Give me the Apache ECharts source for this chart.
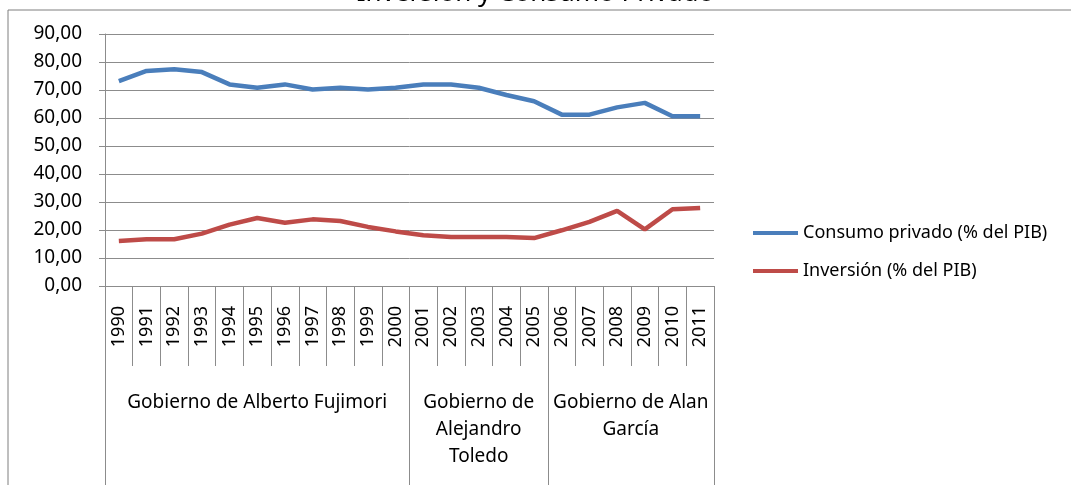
<!DOCTYPE html>
<html lang="es">
<head>
  <meta charset="UTF-8">
  <title>Inversión y Consumo Privado</title>
  <script src="https://cdn.jsdelivr.net/npm/echarts@6/dist/echarts.min.js"></script>
  <style>
    html, body { margin: 0; padding: 0; background: #fff; }
    #chart { width: 1071px; height: 485px; }
  </style>
</head>
<body>
  <div id="chart"></div>
  <script>
    // datos
    var years = ['1990','1991','1992','1993','1994','1995','1996','1997','1998','1999','2000',
                 '2001','2002','2003','2004','2005','2006','2007','2008','2009','2010','2011'];
    var consumo = [73.2, 76.8, 77.4, 76.4, 72.0, 70.8, 72.0, 70.2, 70.8, 70.2, 70.8,
                   72.0, 72.0, 70.8, 68.2, 66.0, 61.2, 61.2, 63.8, 65.4, 60.6, 60.6];
    var inversion = [16.1, 16.7, 16.7, 18.7, 21.9, 24.3, 22.6, 23.8, 23.2, 21.1, 19.5,
                     18.1, 17.5, 17.5, 17.5, 17.1, 19.9, 22.9, 26.8, 20.2, 27.4, 27.9];
    // gobiernos: nombre, primer indice, ultimo indice
    var gobiernos = ['Gobierno de Alberto Fujimori', 'Gobierno de\nAlejandro\nToledo', 'Gobierno de Alan\nGarcía'];
    var gobInicio = [0, 11, 16];
    var gobFin = [10, 15, 21];

    var font = 'Noto Sans';
    var gris = '#8c8c8c';

    // limites entre gobiernos y posicion del rotulo
    var limites = gobInicio.concat([years.length]);
    function gobLabelIdx(i) {
      for (var g = 0; g < gobiernos.length; g++) {
        if (i === Math.ceil((gobInicio[g] + gobFin[g]) / 2)) return g;
      }
      return -1;
    }

    var chart = echarts.init(document.getElementById('chart'), null, {renderer: 'canvas'});
    var option = {
      animation: false,
      backgroundColor: '#fff',
      title: {
        text: 'Inversión y Consumo Privado',
        left: 'center',
        top: -19,
        padding: 0,
        z: 10,
        textStyle: { fontFamily: font, fontSize: 26, fontWeight: 'normal', color: '#000' }
      },
      graphic: [{
        type: 'rect',
        z: -1,
        shape: { x: 8, y: 10, width: 1200, height: 600 },
        style: { fill: 'none', stroke: '#7f7f7f', lineWidth: 1 }
      }],
      legend: {
        orient: 'vertical',
        left: 748,
        top: 219,
        itemGap: 20,
        itemWidth: 45,
        itemHeight: 4,
        icon: 'rect',
        textStyle: { fontFamily: font, fontSize: 18, color: '#000' },
        data: ['Consumo privado (% del PIB)', 'Inversión (% del PIB)']
      },
      grid: { left: 105, right: 357, top: 34, bottom: 199, containLabel: false },
      xAxis: [{
        type: 'category',
        data: years,
        boundaryGap: true,
        axisLine: { show: true, lineStyle: { color: gris } },
        axisTick: { show: true, interval: 0, length: 80, lineStyle: { color: gris } },
        axisLabel: {
          interval: 0, rotate: 90, margin: 20,
          fontFamily: font, fontSize: 18, color: '#000'
        }
      }, {
        type: 'category',
        data: years,
        position: 'bottom',
        offset: 80,
        boundaryGap: true,
        axisLine: { show: false },
        axisTick: {
          show: true, length: 125, lineStyle: { color: gris },
          interval: function (i) { return limites.indexOf(i) >= 0; }
        },
        axisLabel: {
          margin: 23,
          hideOverlap: false,
          fontFamily: font, fontSize: 19, color: '#000', lineHeight: 27,
          interval: function (i) { return gobLabelIdx(i) >= 0; },
          formatter: function (v, i) {
            var g = gobLabelIdx(i);
            if (g < 0) return '';
            // Garcia: numero par de años, el centro cae entre dos categorias
            if ((gobFin[g] - gobInicio[g]) % 2 === 1) return '{c|' + gobiernos[g].replace('\n', '}\n{c|') + '}';
            return gobiernos[g];
          },
          rich: {
            c: { fontFamily: font, fontSize: 19, color: '#000', lineHeight: 27, padding: [0, 28, 0, 0] }
          }
        }
      }],
      yAxis: {
        type: 'value',
        min: 0,
        max: 90,
        interval: 10,
        axisLine: { show: true, lineStyle: { color: gris } },
        axisTick: { show: true, length: 6, lineStyle: { color: gris } },
        splitLine: { show: true, lineStyle: { color: gris } },
        axisLabel: {
          margin: 23,
          fontFamily: font, fontSize: 19, color: '#000',
          formatter: function (v) { return v.toFixed(2).replace('.', ','); }
        }
      },
      series: [{
        name: 'Consumo privado (% del PIB)',
        type: 'line',
        data: consumo,
        showSymbol: false,
        lineStyle: { width: 4.5, color: '#4a7ebb' },
        itemStyle: { color: '#4a7ebb' }
      }, {
        name: 'Inversión (% del PIB)',
        type: 'line',
        data: inversion,
        showSymbol: false,
        lineStyle: { width: 4.5, color: '#be4b48' },
        itemStyle: { color: '#be4b48' }
      }]
    };
    chart.setOption(option);
  </script>
</body>
</html>
